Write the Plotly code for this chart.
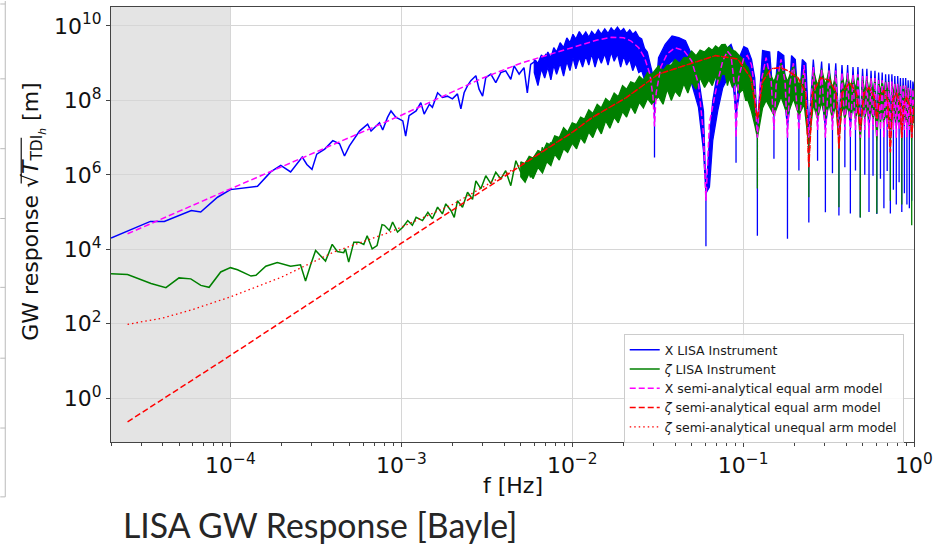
import plotly.graph_objects as go

# ---------------- data ----------------
# X TDI channel, LISA Instrument simulation: single noisy line at low frequency
X_LINE_F = [2.0e-5, 3.4e-5, 4.1e-5, 5.9e-5, 6.7e-5, 8.4e-5, 1.0e-4, 1.44e-4, 1.72e-4, 1.97e-4,
            2.25e-4, 2.63e-4, 2.8e-4, 3.0e-4, 3.2e-4, 3.56e-4, 3.97e-4, 4.35e-4, 4.65e-4, 4.97e-4,
            5.69e-4, 6.35e-4, 6.65e-4, 7.45e-4, 7.78e-4, 8.3e-4, 8.7e-4, 9.3e-4, 9.7e-4, 1.02e-3,
            1.06e-3, 1.11e-3, 1.22e-3, 1.30e-3, 1.36e-3, 1.46e-3, 1.52e-3, 1.63e-3, 1.74e-3, 1.86e-3,
            1.99e-3, 2.13e-3, 2.23e-3, 2.33e-3, 2.44e-3, 2.55e-3, 2.73e-3, 2.85e-3, 2.99e-3, 3.12e-3,
            3.34e-3, 3.57e-3, 3.82e-3, 4.08e-3, 4.37e-3, 4.57e-3, 4.89e-3, 5.22e-3, 5.46e-3, 5.71e-3,
            6.11e-3, 6.4e-3, 7.0e-3, 7.64e-3, 8.36e-3, 9.04e-3, 9.57e-3]
X_LINE_Y = [2.0e4, 5.6e4, 5.6e4, 1.1e5, 1.0e5, 2.5e5, 4.0e5, 4.9e5, 1.2e6, 1.8e6,
            1.2e6, 3.0e6, 1.9e6, 1.4e6, 3.6e6, 4.9e6, 8.3e6, 6.8e6, 3.2e6, 6.0e6,
            1.5e7, 2.3e7, 1.5e7, 2.5e7, 1.6e7, 3.5e7, 5.2e7, 3.5e7, 3.2e7, 2.8e7,
            1.1e7, 3.9e7, 5.2e7, 8.7e7, 4.3e7, 7.9e7, 6.5e7, 1.6e8, 1.2e8, 1.3e8,
            1.1e8, 1.5e8, 5.9e7, 1.6e8, 2.5e8, 3.4e8, 4.6e8, 2.0e8, 1.3e8, 4.1e8,
            5.1e8, 3.0e8, 5.6e8, 6.2e8, 3.7e8, 8.5e8, 5.1e8, 7.6e8, 1.6e8, 9.3e8,
            1.15e9, 7.6e8, 1.7e9, 1.4e9, 2.4e9, 6.9e8, 3.2e9]

# X instrument: dense noisy band at high frequency (upper / lower envelope)
X_BAND_F = [6.0e-3, 6.3e-3, 6.6e-3, 6.9e-3, 7.2e-3, 7.5e-3, 7.8e-3, 8.1e-3, 8.5e-3, 8.9e-3,
            9.3e-3, 9.7e-3, 1.01e-2, 1.05e-2, 1.1e-2, 1.15e-2, 1.2e-2, 1.25e-2, 1.3e-2, 1.36e-2,
            1.42e-2, 1.48e-2, 1.55e-2, 1.62e-2, 1.69e-2, 1.76e-2, 1.84e-2, 1.92e-2, 2.0e-2, 2.08e-2,
            2.17e-2, 2.26e-2, 2.35e-2, 2.45e-2, 2.55e-2, 2.65e-2, 2.75e-2, 2.86e-2, 2.94e-2, 2.99e-2,
            0.0303, 0.032, 0.035, 0.0384, 0.042, 0.046, 0.050, 0.0548, 0.0586,
            0.0606, 0.0635, 0.0664, 0.071, 0.076, 0.0813, 0.085, 0.088,
            0.0909, 0.096, 0.101, 0.106, 0.112, 0.117,
            0.1212, 0.130, 0.143,
            0.1515, 0.160, 0.173,
            0.1818, 0.192, 0.202,
            0.2121, 0.222, 0.233,
            0.2424, 0.2575, 0.2727, 0.288, 0.3030, 0.318, 0.3333, 0.3485, 0.3636, 0.379,
            0.3939, 0.409, 0.4242, 0.4395, 0.4545, 0.470, 0.4848, 0.500, 0.5151, 0.530,
            0.5454, 0.5605, 0.5757, 0.591, 0.6060, 0.621, 0.6363, 0.6515, 0.6666, 0.682,
            0.6969, 0.712, 0.7272, 0.7425, 0.7575, 0.7725, 0.7878, 0.803, 0.8181, 0.833,
            0.8484, 0.8635, 0.8787, 0.894, 0.9090, 0.924, 0.9393, 0.9545, 0.9696, 0.9848, 1.0]
X_BAND_TOP = [1.26e9, 1.0e9, 1.66e9, 1.26e9, 2.0e9, 1.41e9, 2.63e9, 2.0e9, 3.55e9, 2.63e9,
              4.8e9, 3.55e9, 6.0e9, 4.47e9, 7.1e9, 5.2e9, 6.9e9, 5.0e9, 7.1e9, 5.6e9,
              7.9e9, 6.0e9, 8.3e9, 6.3e9, 8.9e9, 7.1e9, 9.3e9, 7.1e9, 8.5e9, 6.3e9,
              7.9e9, 6.0e9, 7.1e9, 5.0e9, 4.47e9, 2.5e9, 2.0e9, 8.9e8, 5.6e8, 4.0e8,
              7.9e7, 1.4e9, 3.2e9, 5.4e9, 4.9e9, 4.0e9, 1.7e9, 4.1e8, 5.2e7,
              3.2e5, 8.3e6, 9.8e7, 6.2e8, 1.4e9, 2.6e9, 3.2e9, 2.0e9,
              4.0e7, 1.6e9, 2.8e9, 2.5e9, 1.26e9, 4.0e8,
              2.0e7, 2.2e9, 2.0e9,
              6.3e7, 2.1e9, 1.6e9,
              2.0e7, 1.6e9, 1.26e9,
              5.0e7, 1.26e9, 1.0e9,
              1.6e7, 1.26e9, 5.0e7, 1.1e9, 2.0e7, 1.0e9, 5.0e7, 1.0e9, 2.0e7, 8.9e8,
              5.0e7, 8.9e8, 2.0e7, 7.9e8, 5.0e7, 7.9e8, 2.0e7, 7.1e8, 5.0e7, 7.1e8,
              2.0e7, 6.3e8, 4.0e7, 6.3e8, 2.0e7, 5.6e8, 4.0e7, 5.6e8, 2.0e7, 5.0e8,
              4.0e7, 5.0e8, 2.0e7, 5.0e8, 4.0e7, 4.5e8, 2.0e7, 4.5e8, 4.0e7, 4.0e8,
              2.0e7, 4.0e8, 4.0e7, 4.0e8, 2.0e7, 3.5e8, 4.0e7, 3.5e8, 2.0e7, 3.2e8, 2.0e8]
X_BAND_BOT = [5.6e8, 2.5e8, 7.1e8, 4.0e8, 7.9e8, 3.55e8, 8.9e8, 5.0e8, 1.0e9, 4.47e8,
              1.12e9, 6.3e8, 1.41e9, 7.1e8, 1.41e9, 7.9e8, 1.58e9, 8.9e8, 1.78e9, 7.9e8,
              1.58e9, 1.0e9, 1.78e9, 8.9e8, 2.0e9, 1.12e9, 1.78e9, 7.9e8, 1.58e9, 8.9e8,
              1.26e9, 6.3e8, 1.0e9, 5.6e8, 6.3e8, 3.55e8, 3.2e8, 2.0e8, 1.41e8, 1.0e8,
              7.9e7, 3.4e8, 7.6e8, 1.15e9, 1.05e9, 6.2e8, 2.8e8, 6.5e7, 4.5e6,
              3.2e5, 4.7e5, 8.3e6, 5.2e7, 2.2e8, 4.1e8, 4.1e8, 2.0e8,
              4.0e7, 2.0e8, 3.2e8, 2.8e8, 1.6e8, 6.3e7,
              2.0e7, 2.0e8, 2.0e8,
              6.3e7, 2.0e8, 1.6e8,
              2.0e7, 1.6e8, 1.26e8,
              5.0e7, 1.26e8, 1.0e8,
              1.6e7, 1.26e8, 5.0e7, 1.26e8, 2.0e7, 1.0e8, 5.0e7, 1.0e8, 2.0e7, 1.0e8,
              5.0e7, 1.0e8, 2.0e7, 8.9e7, 5.0e7, 8.9e7, 2.0e7, 7.9e7, 5.0e7, 7.9e7,
              2.0e7, 7.1e7, 4.0e7, 7.1e7, 2.0e7, 6.3e7, 4.0e7, 6.3e7, 2.0e7, 6.3e7,
              4.0e7, 5.6e7, 2.0e7, 5.6e7, 4.0e7, 5.0e7, 2.0e7, 5.0e7, 4.0e7, 5.0e7,
              2.0e7, 4.5e7, 4.0e7, 4.5e7, 2.0e7, 4.0e7, 4.0e7, 4.0e7, 2.0e7, 4.0e7, 3.2e7]
# X instrument: bottoms of the narrow notches (spikes)
X_NOTCH_F = [0.0303, 0.0606, 0.0909, 0.1212, 0.1515, 0.1818, 0.2121, 0.2424, 0.2727, 0.3030,
             0.3333, 0.3636, 0.3939, 0.4242, 0.4545, 0.4848, 0.5151, 0.5454, 0.5757, 0.6060,
             0.6363, 0.6666, 0.6969, 0.7272, 0.7575, 0.7878, 0.8181, 0.8484, 0.8787, 0.9090,
             0.9393, 0.9696]
X_NOTCH_DEPTH = [2.9e6, 1.2e4, 2.1e6, 2.3e4, 2.7e6, 1.9e4, 1.3e6, 5.2e4, 2.4e6, 9.8e4,
                 1.1e6, 8.1e4, 1.6e6, 9.1e4, 1.3e6, 7.1e4, 1.0e6, 1.0e5, 9.5e5, 8.9e4,
                 7.9e5, 1.26e5, 1.26e6, 9.1e4, 4.0e5, 1.6e5, 6.3e5, 1.0e5, 3.2e5, 1.6e5,
                 1.26e5, 2.0e5]

# zeta TDI channel, LISA Instrument simulation
Z_LINE_F = [2.0e-5, 2.5e-5, 3.43e-5, 4.19e-5, 5.0e-5, 5.86e-5, 6.71e-5, 7.5e-5, 8.77e-5, 1.0e-4,
            1.1e-4, 1.32e-4, 1.41e-4, 1.61e-4, 1.88e-4, 2.25e-4, 2.57e-4, 2.75e-4, 2.94e-4, 3.15e-4,
            3.6e-4, 3.94e-4, 4.22e-4, 4.6e-4, 4.71e-4, 4.92e-4, 5.27e-4, 5.64e-4, 6.03e-4, 6.31e-4,
            6.75e-4, 7.21e-4, 7.71e-4, 7.96e-4, 8.51e-4, 8.89e-4, 9.5e-4, 1.02e-3, 1.09e-3, 1.16e-3,
            1.22e-3, 1.33e-3, 1.43e-3, 1.52e-3, 1.63e-3, 1.74e-3, 1.82e-3, 1.95e-3, 2.04e-3, 2.13e-3,
            2.28e-3, 2.44e-3, 2.61e-3, 2.73e-3, 2.92e-3, 3.12e-3, 3.34e-3, 3.57e-3, 3.82e-3, 4.08e-3,
            4.37e-3, 4.68e-3, 5.0e-3, 5.35e-3, 5.71e-3, 5.97e-3, 6.4e-3, 6.68e-3, 7.0e-3, 7.48e-3,
            8.0e-3, 8.55e-3, 9.14e-3, 9.79e-3, 1.05e-2, 1.09e-2]
Z_LINE_Y = [2.2e3, 2.1e3, 1.2e3, 930, 1.7e3, 1.6e3, 1.07e3, 950, 2.45e3, 3.2e3,
            2.8e3, 1.9e3, 2.0e3, 3.5e3, 4.4e3, 3.5e3, 3.8e3, 1.4e3, 3.7e3, 9.3e3,
            4.8e3, 1.35e4, 8.7e3, 8.1e3, 1.02e4, 4.5e3, 1.55e4, 1.55e4, 1.35e4, 2.3e4,
            1.02e4, 1.26e4, 4.6e4, 4.4e4, 3.2e4, 5.4e4, 2.9e4, 3.9e4, 5.9e4, 4.4e4,
            7.2e4, 5.9e4, 9.8e4, 6.6e4, 1.35e5, 8.9e4, 1.66e5, 1.1e5, 7.2e4, 2.0e5,
            1.35e5, 3.4e5, 2.2e5, 6.9e5, 4.2e5, 9.5e5, 5.8e5, 1.17e6, 7.8e5, 1.29e6,
            5.1e5, 2.4e6, 1.17e6, 1.95e6, 8.5e5, 2.95e6, 1.58e6, 5.5e6, 3.2e6, 7.4e6,
            4.5e6, 9.1e6, 6.0e6, 1.38e7, 8.3e6, 2.1e7]
Z_BAND_F = [5.0e-3, 5.3e-3, 5.6e-3, 5.9e-3, 6.3e-3, 6.7e-3, 7.1e-3, 7.5e-3, 7.9e-3, 8.4e-3,
            8.9e-3, 9.4e-3, 1.0e-2, 1.06e-2, 1.12e-2, 1.18e-2, 1.25e-2, 1.32e-2, 1.4e-2, 1.48e-2,
            1.57e-2, 1.66e-2, 1.76e-2, 1.86e-2, 1.97e-2, 2.08e-2, 2.2e-2, 2.33e-2, 2.47e-2, 2.61e-2,
            2.76e-2, 2.92e-2,
            3.2e-2, 3.4e-2, 3.6e-2, 3.8e-2, 4.0e-2, 4.25e-2, 4.5e-2, 4.75e-2, 5.0e-2, 5.3e-2,
            5.6e-2, 5.95e-2, 6.3e-2, 6.6e-2, 6.9e-2, 7.2e-2, 7.5e-2, 7.85e-2, 8.1e-2, 8.3e-2,
            8.65e-2, 9.0e-2, 9.5e-2, 0.100, 0.1035, 0.107, 0.112, 0.1175,
            0.1212, 0.130, 0.1364, 0.1515, 0.1667, 0.1818, 0.197, 0.2121, 0.2275,
            0.2424, 0.2575, 0.2727, 0.288, 0.3030, 0.318, 0.3333, 0.3485,
            0.3636, 0.379, 0.3939, 0.409, 0.4242, 0.4395, 0.4545, 0.470,
            0.4848, 0.500, 0.5151, 0.530, 0.5454, 0.5605, 0.5757, 0.591,
            0.6060, 0.621, 0.6363, 0.6515, 0.6666, 0.682, 0.6969, 0.712,
            0.7272, 0.7425, 0.7575, 0.7725, 0.7878, 0.803, 0.8181, 0.833,
            0.8484, 0.8635, 0.8787, 0.894, 0.9090, 0.924, 0.9393, 0.9545,
            0.9696, 0.9848, 1.0]
Z_BAND_TOP = [2.24e6, 2.0e6, 3.16e6, 2.82e6, 4.47e6, 4.0e6, 7.1e6, 6.3e6, 1.12e7, 1.0e7,
              1.86e7, 1.41e7, 2.5e7, 2.24e7, 3.55e7, 3.16e7, 5.6e7, 4.47e7, 7.9e7, 6.3e7,
              1.12e8, 8.9e7, 1.58e8, 1.26e8, 2.5e8, 2.0e8, 3.16e8, 2.82e8, 4.47e8, 3.55e8,
              5.6e8, 5.0e8,
              8.5e8, 6.3e8, 8.9e8, 8.9e8, 1.26e9, 1.0e9, 1.41e9, 1.41e9, 2.1e9, 1.58e9,
              2.24e9, 2.0e9, 2.63e9, 2.24e9, 2.9e9, 2.5e9, 3.16e9, 3.2e9, 2.5e9, 2.82e9,
              2.24e9, 2.1e9, 1.58e9, 1.26e9, 8.9e8, 7.6e8, 4.0e8, 1.5e8,
              1.0e7, 4.0e8, 7.9e8, 3.2e8, 1.0e9, 3.2e8, 8.9e8, 2.5e8, 6.3e8,
              6.3e6, 6.3e8, 2.5e8, 7.1e8, 2.5e8, 6.3e8, 2.0e8, 5.0e8,
              7.9e6, 5.0e8, 2.0e8, 5.0e8, 2.0e8, 4.5e8, 2.0e8, 4.5e8,
              7.9e6, 4.0e8, 1.6e8, 4.0e8, 1.6e8, 4.0e8, 1.6e8, 3.5e8,
              7.9e6, 3.5e8, 1.6e8, 3.2e8, 1.6e8, 3.2e8, 1.6e8, 3.2e8,
              7.9e6, 2.8e8, 1.4e8, 2.8e8, 1.4e8, 2.8e8, 1.26e8, 2.5e8,
              7.9e6, 2.5e8, 1.26e8, 2.5e8, 1.26e8, 2.2e8, 1.26e8, 2.0e8,
              7.9e6, 2.0e8, 1.6e8]
Z_BAND_BOT = [8.9e5, 6.3e5, 1.12e6, 7.9e5, 1.58e6, 1.12e6, 2.24e6, 1.78e6, 3.55e6, 2.5e6,
              5.0e6, 4.0e6, 7.1e6, 5.0e6, 1.0e7, 7.1e6, 1.41e7, 1.0e7, 2.0e7, 1.26e7,
              2.82e7, 1.78e7, 3.55e7, 2.5e7, 5.0e7, 3.55e7, 7.1e7, 4.47e7, 8.9e7, 6.3e7,
              1.12e8, 7.9e7,
              1.26e8, 7.9e7, 2.0e8, 1.0e8, 1.78e8, 1.26e8, 2.82e8, 1.58e8, 3.16e8, 2.0e8,
              4.0e8, 2.24e8, 3.55e8, 2.5e8, 4.47e8, 2.82e8, 5.0e8, 5.1e8, 2.5e8, 4.0e8,
              2.24e8, 3.16e8, 1.58e8, 2.0e8, 1.0e8, 9.8e7, 5.0e7, 2.0e7,
              1.0e7, 6.3e7, 1.0e8, 4.0e7, 1.26e8, 4.0e7, 1.1e8, 4.0e7, 7.9e7,
              6.3e6, 7.9e7, 3.2e7, 8.9e7, 3.2e7, 7.9e7, 3.2e7, 7.9e7,
              7.9e6, 7.1e7, 3.2e7, 7.1e7, 3.2e7, 7.1e7, 3.2e7, 6.3e7,
              7.9e6, 6.3e7, 3.2e7, 6.3e7, 3.2e7, 6.3e7, 3.2e7, 5.6e7,
              7.9e6, 5.6e7, 2.5e7, 5.0e7, 2.5e7, 5.0e7, 2.5e7, 5.0e7,
              7.9e6, 5.0e7, 2.5e7, 4.5e7, 2.5e7, 4.5e7, 2.5e7, 4.0e7,
              7.9e6, 4.0e7, 2.5e7, 4.0e7, 2.5e7, 3.5e7, 2.0e7, 3.2e7,
              7.9e6, 3.2e7, 2.5e7]
Z_NOTCH_F = [0.1212, 0.2424, 0.3636, 0.4848, 0.6060, 0.7272, 0.8484, 0.9696]
Z_NOTCH_DEPTH = [4.3e5, 2.5e5, 1.35e5, 7.1e4, 9.1e4, 2.0e5, 1.6e5, 4.4e4]

# X semi-analytical equal arm model
XM_F = [2.5e-5, 1.0e-4, 1.0e-3, 3.0e-3, 5.0e-3, 7.0e-3, 1.0e-2, 1.4e-2, 1.7e-2, 2.0e-2,
        2.2e-2, 2.45e-2, 2.65e-2, 2.85e-2, 2.97e-2,
        0.0303, 0.031, 0.033, 0.036, 0.040, 0.045, 0.050, 0.0548, 0.0586,
        0.0606, 0.0635, 0.071, 0.076, 0.081, 0.085, 0.089,
        0.0909, 0.094, 0.101, 0.106, 0.112, 0.117,
        0.1212, 0.126, 0.1364, 0.146, 0.1515, 0.156, 0.1667, 0.176, 0.1818, 0.187, 0.197,
        0.2121, 0.2275, 0.2424, 0.2575, 0.2727, 0.288, 0.3030, 0.318, 0.3333, 0.3485,
        0.3636, 0.379, 0.3939, 0.409, 0.4242, 0.4395, 0.4545, 0.470, 0.4848, 0.500,
        0.5151, 0.530, 0.5454, 0.5605, 0.5757, 0.591, 0.6060, 0.621, 0.6363, 0.6515,
        0.6666, 0.682, 0.6969, 0.712, 0.7272, 0.7425, 0.7575, 0.7725, 0.7878, 0.803,
        0.8181, 0.833, 0.8484, 0.8635, 0.8787, 0.894, 0.9090, 0.924, 0.9393, 0.9545,
        0.9696, 0.9848, 1.0]
XM_Y = [2.6e4, 4.2e5, 4.0e7, 4.0e8, 1.0e9, 1.6e9, 2.6e9, 4.2e9, 5.0e9, 4.8e9,
        4.0e9, 2.6e9, 1.4e9, 5.0e8, 1.26e8,
        2.0e7, 1.6e8, 7.9e8, 1.8e9, 2.6e9, 2.2e9, 1.15e9, 2.8e8, 1.26e7,
        2.0e5, 2.5e7, 3.2e8, 1.15e9, 2.1e9, 1.6e9, 2.5e8,
        1.0e7, 4.0e8, 1.4e9, 1.6e9, 8.9e8, 2.0e8,
        1.0e7, 2.5e8, 1.4e9, 3.2e8, 1.6e7, 2.5e8, 1.26e9, 3.2e8, 1.0e7, 2.5e8, 1.0e9,
        1.6e7, 8.9e8, 1.0e7, 7.9e8, 1.6e7, 7.1e8, 1.0e7, 6.3e8, 1.6e7, 6.3e8,
        1.0e7, 5.6e8, 1.6e7, 5.6e8, 1.0e7, 5.0e8, 1.6e7, 5.0e8, 1.0e7, 4.5e8,
        1.6e7, 4.5e8, 1.0e7, 4.0e8, 1.6e7, 4.0e8, 1.0e7, 3.5e8, 1.6e7, 3.5e8,
        1.0e7, 3.2e8, 1.6e7, 3.2e8, 1.0e7, 3.2e8, 1.6e7, 2.8e8, 1.0e7, 2.8e8,
        1.6e7, 2.5e8, 1.0e7, 2.5e8, 1.6e7, 2.5e8, 1.0e7, 2.2e8, 1.6e7, 2.2e8,
        1.0e7, 2.0e8, 6.3e7]

# zeta semi-analytical equal arm model
ZE_F = [2.5e-5, 1.0e-4, 1.0e-3, 1.0e-2, 0.013, 0.0206, 0.032, 0.050, 0.069, 0.093,
        0.111, 0.1212, 0.130, 0.146, 0.165, 0.183, 0.210, 0.232, 0.2424, 0.255,
        0.285, 0.320, 0.350, 0.3636, 0.380, 0.420, 0.460, 0.4848, 0.510, 0.545,
        0.585, 0.6060, 0.630, 0.665, 0.700, 0.7272, 0.750, 0.790, 0.830, 0.8484,
        0.870, 0.910, 0.950, 0.9696, 1.0]
ZE_Y = [0.23, 14, 1.45e4, 1.38e7, 3.4e7, 1.17e8, 5.1e8, 1.0e9, 1.6e9, 1.3e9,
        4.0e8, 3.2e7, 3.2e8, 7.1e8, 7.6e8, 6.3e8, 4.0e8, 1.6e8, 1.6e6, 1.6e8,
        4.0e8, 3.5e8, 1.6e8, 5.0e6, 1.6e8, 3.0e8, 1.6e8, 1.6e7, 1.6e8, 2.2e8,
        1.26e8, 3.2e7, 1.26e8, 1.9e8, 1.0e8, 4.0e6, 1.0e8, 1.6e8, 7.9e7, 1.0e7,
        7.9e7, 1.26e8, 6.3e7, 1.0e7, 7.9e7]

# zeta semi-analytical unequal arm model (low-frequency part; joins equal-arm model above 1e-2 Hz)
ZU_F = [2.5e-5, 4.0e-5, 6.0e-5, 1.0e-4, 2.0e-4, 4.0e-4, 8.6e-4, 2.0e-3, 3.5e-3, 6.0e-3]
ZU_Y = [96, 141, 240, 525, 1.8e3, 8.3e3, 2.9e4, 1.6e5, 7.0e5, 3.1e6]

X_TICKS = [1e-4, 1e-3, 1e-2, 1e-1, 1]
X_TICK_TEXT = ["10<sup>−4</sup>", "10<sup>−3</sup>", "10<sup>−2</sup>", "10<sup>−1</sup>", "10<sup>0</sup>"]
Y_TICKS = [1, 1e2, 1e4, 1e6, 1e8, 1e10]
Y_TICK_TEXT = ["10<sup>0</sup>", "10<sup>2</sup>", "10<sup>4</sup>", "10<sup>6</sup>", "10<sup>8</sup>", "10<sup>10</sup>"]
SHADE_END = 1e-4

for a, b in [(X_LINE_F, X_LINE_Y), (X_BAND_F, X_BAND_TOP), (X_BAND_F, X_BAND_BOT),
             (X_NOTCH_F, X_NOTCH_DEPTH), (Z_LINE_F, Z_LINE_Y), (Z_BAND_F, Z_BAND_TOP),
             (Z_BAND_F, Z_BAND_BOT), (Z_NOTCH_F, Z_NOTCH_DEPTH), (XM_F, XM_Y), (ZE_F, ZE_Y), (ZU_F, ZU_Y)]:
    assert len(a) == len(b), (len(a), len(b))


def band_polygon(f, top, bot, notch_f, notch_depth):
    """Closed outline: upper envelope forward, lower envelope back, with the
    narrow notch spikes inserted on the lower envelope."""
    depth = dict(zip(notch_f, notch_depth))
    lx, ly = [], []
    for fi, bi in zip(f, bot):
        if fi in depth:
            lx += [fi, fi, fi]
            ly += [bi, depth[fi], bi]
        else:
            lx.append(fi)
            ly.append(bi)
    return list(f) + lx[::-1] + [f[0]], list(top) + ly[::-1] + [top[0]]


BLUE = "#0000ff"
GREEN = "#008000"
MAGENTA = "#ff00ff"
RED = "#ff0000"
FONT = "DejaVu Sans"

fig = go.Figure()

fig.add_trace(go.Scatter(x=X_LINE_F, y=X_LINE_Y, mode="lines", name="X LISA Instrument",
                         line=dict(color=BLUE, width=1.5)))
bx, by = band_polygon(X_BAND_F, X_BAND_TOP, X_BAND_BOT, X_NOTCH_F, X_NOTCH_DEPTH)
fig.add_trace(go.Scatter(x=bx, y=by, mode="lines", fill="toself", fillcolor=BLUE,
                         line=dict(color=BLUE, width=1.3), showlegend=False, hoverinfo="skip"))

fig.add_trace(go.Scatter(x=Z_LINE_F, y=Z_LINE_Y, mode="lines", name="<i>ζ</i> LISA Instrument",
                         line=dict(color=GREEN, width=1.5)))
gx, gy = band_polygon(Z_BAND_F, Z_BAND_TOP, Z_BAND_BOT, Z_NOTCH_F, Z_NOTCH_DEPTH)
fig.add_trace(go.Scatter(x=gx, y=gy, mode="lines", fill="toself", fillcolor=GREEN,
                         line=dict(color=GREEN, width=1.3), showlegend=False, hoverinfo="skip"))

fig.add_trace(go.Scatter(x=XM_F, y=XM_Y, mode="lines", name="X semi-analytical equal arm model",
                         line=dict(color=MAGENTA, width=1.5, dash="6px,3px")))
fig.add_trace(go.Scatter(x=ZE_F, y=ZE_Y, mode="lines", name="<i>ζ</i> semi-analytical equal arm model",
                         line=dict(color=RED, width=1.5, dash="6px,3px")))
zu_x = ZU_F + [f for f in ZE_F if f >= 1e-2]
zu_y = ZU_Y + [y for f, y in zip(ZE_F, ZE_Y) if f >= 1e-2]
fig.add_trace(go.Scatter(x=zu_x, y=zu_y, mode="lines", name="<i>ζ</i> semi-analytical unequal arm model",
                         line=dict(color=RED, width=1.3, dash="1.5px,3px")))

minor_x = [m * 10.0 ** e for e in range(-5, 0) for m in range(2, 10)]

axis_common = dict(type="log", showline=True, linecolor="#444444", linewidth=1, mirror=True,
                   showgrid=True, gridcolor="#d6d6d6", gridwidth=1.2, ticks="outside",
                   ticklen=4, tickcolor="#444444", tickfont=dict(family=FONT, size=22, color="#111111"),
                   zeroline=False, tickmode="array")

fig.update_xaxes(range=[-4.699, 0.0], tickvals=X_TICKS, ticktext=X_TICK_TEXT,
                 minor=dict(tickmode="array", tickvals=minor_x, ticks="outside", ticklen=2.5,
                            tickcolor="#444444", showgrid=False),
                 **axis_common)
fig.update_yaxes(range=[-1.18, 10.51], tickvals=Y_TICKS, ticktext=Y_TICK_TEXT, **axis_common)

# shaded (excluded) low-frequency region
fig.add_shape(type="rect", xref="x", yref="paper", x0=2e-5, x1=SHADE_END, y0=0, y1=1,
              fillcolor="#e4e4e4", line=dict(width=0), layer="below")


def px2paper(px, py):
    return (px - 111) / 805.0, (442 - py) / 436.0


# partial frame of a neighbouring slide element at the far left
x5, ytop = px2paper(5, 0)
x0_, ybot = px2paper(0, 497)
fig.add_shape(type="line", xref="paper", yref="paper", x0=x5, x1=x5, y0=ytop, y1=ybot,
              line=dict(color="#bbbbbb", width=1))
fig.add_shape(type="line", xref="paper", yref="paper", x0=x0_, x1=x5, y0=ybot, y1=ybot,
              line=dict(color="#bbbbbb", width=1))
for ty in [3, 78, 148, 218, 287, 358, 428]:
    _, yy = px2paper(0, ty)
    fig.add_shape(type="line", xref="paper", yref="paper", x0=x0_, x1=x5, y0=yy, y1=yy,
                  line=dict(color="#bbbbbb", width=1))

# overline of the square root in the y-axis title (title is rotated, so the bar is vertical)
ox, oy0 = px2paper(21, 137)
_, oy1 = px2paper(0, 183)
fig.add_shape(type="line", xref="paper", yref="paper", x0=ox, x1=ox, y0=oy0, y1=oy1,
              line=dict(color="#111111", width=1.2))

annotations = [
    dict(text="f [Hz]", xref="paper", yref="paper", x=0.5, y=px2paper(0, 486)[1],
         xanchor="center", yanchor="middle", showarrow=False,
         font=dict(family=FONT, size=22, color="#111111")),
    dict(text="GW response √<i>T</i><sub>TDI<sub><i>h</i></sub></sub> [m]", xref="paper", yref="paper",
         x=px2paper(33, 0)[0], y=px2paper(0, 211)[1], textangle=-90,
         xanchor="center", yanchor="middle", showarrow=False,
         font=dict(family=FONT, size=22, color="#111111")),
    dict(text="LISA GW Response [Bayle]", xref="paper", yref="paper",
         x=px2paper(121, 0)[0], y=px2paper(0, 525)[1], xanchor="left", yanchor="middle",
         showarrow=False, font=dict(family="Lato", size=33.8, color="#262626")),
]

fig.update_layout(
    width=939, height=546,
    margin=dict(l=111, r=23, t=6, b=104),
    paper_bgcolor="white", plot_bgcolor="white",
    annotations=annotations,
    legend=dict(x=px2paper(625, 0)[0], y=px2paper(0, 334)[1], xanchor="left", yanchor="top",
                bgcolor="rgba(255,255,255,0.85)", bordercolor="#cccccc", borderwidth=1,
                font=dict(family=FONT, size=12.5, color="#1a1a1a"), tracegroupgap=0),
    showlegend=True,
)

fig.write_html("out.html")
